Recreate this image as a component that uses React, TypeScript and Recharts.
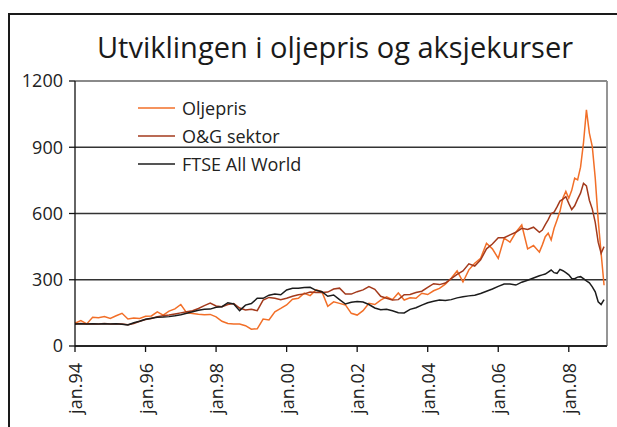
import React from 'react';
import { LineChart, Line, XAxis, YAxis, CartesianGrid, ReferenceLine } from 'recharts';

const TITLE = 'Utviklingen i oljepris og aksjekurser';

const SERIES_NAMES = ['Oljepris', 'O&G sektor', 'FTSE All World'];
const SERIES_KEYS = ['oil', 'og', 'ftse'];
const SERIES_COLORS = ['#f26f28', '#a33a1c', '#1c1c1c'];

const Y_TICKS = [0, 300, 600, 900, 1200];
const X_TICKS = [0, 24, 48, 72, 96, 120, 144, 168];
const X_TICK_LABELS = ['jan.94', 'jan.96', 'jan.98', 'jan.00', 'jan.02', 'jan.04', 'jan.06', 'jan.08'];

// month index since jan.94: every second month to 158, then monthly to 180
const MONTHS_A = [
  0, 2, 4, 6, 8, 10, 12, 14, 16, 18,
  20, 22, 24, 26, 28, 30, 32, 34, 36, 38,
  40, 42, 44, 46, 48, 50, 52, 54, 56, 58,
  60, 62, 64, 66, 68, 70, 72, 74, 76, 78,
  80, 82, 84, 86, 88, 90, 92, 94, 96, 98,
  100, 102, 104, 106, 108, 110, 112, 114, 116, 118,
  120, 122, 124, 126, 128, 130, 132, 134, 136, 138,
  140, 142, 144, 146, 148, 150, 152, 154, 156, 158,
];
const MONTHS_B = [159, 160, 161, 162, 163, 164, 165, 166, 167, 168, 169, 170, 171, 172, 173, 174, 175, 176, 177, 178, 179, 180];

const OIL = [
  103, 115, 100, 130, 128, 133, 125, 137, 148, 122,
  127, 125, 135, 136, 155, 140, 158, 168, 188, 150,
  147, 144, 142, 143, 132, 112, 102, 100, 100, 92,
  76, 78, 122, 118, 155, 170, 186, 212, 216, 239,
  228, 254, 246, 180, 200, 193, 186, 148, 140, 160,
  193, 188, 208, 223, 210, 240, 208, 218, 216, 239,
  233, 250, 261, 280, 307, 340, 290, 345, 375, 397,
  465, 440, 397, 488, 470, 515, 548, 440, 455, 425,
  458, 495, 511, 480, 533, 571, 610, 670, 700, 669, 705, 760, 752, 810, 920, 1069, 964, 903, 760, 570, 420, 275,
];

const OG = [
  100, 102, 100, 101, 100, 102, 100, 101, 100, 96,
  102, 112, 120, 125, 133, 137, 140, 145, 150, 155,
  160, 170, 183, 194, 181, 178, 188, 192, 172, 163,
  166, 160, 208, 220, 216, 210, 216, 225, 232, 236,
  244, 242, 242, 244, 258, 262, 235, 235, 246, 254,
  269, 257, 225, 216, 208, 210, 232, 233, 242, 248,
  265, 282, 278, 285, 305, 324, 340, 372, 362, 390,
  440, 462, 490, 490, 503, 515, 533, 528, 538, 515,
  525, 550, 572, 600, 606, 630, 656, 665, 676, 646, 618, 635, 665, 692, 737, 725, 660, 620, 560, 470, 420, 450,
];

const FTSE = [
  100, 101, 100, 101, 100, 101, 100, 101, 99, 95,
  105, 112, 121, 126, 130, 131, 133, 137, 142, 148,
  155, 162, 166, 167, 175, 178, 196, 190, 160, 185,
  192, 216, 216, 230, 235, 232, 254, 261, 261, 265,
  266, 252, 246, 225, 231, 210, 190, 198, 201, 199,
  188, 172, 164, 166, 160, 151, 150, 166, 173, 185,
  196, 203, 208, 206, 210, 218, 223, 227, 230, 238,
  248, 258, 270, 281, 281, 276, 289, 298, 308, 318,
  322, 326, 335, 344, 332, 329, 347, 341, 332, 322, 306, 305, 312, 314, 305, 295, 286, 268, 245, 200, 188, 210,
];

const MONTHS = [...MONTHS_A, ...MONTHS_B];
const DATA = MONTHS.map((m, i) => ({ m, oil: OIL[i], og: OG[i], ftse: FTSE[i] }));

const FONT = '"Open Sans", "Noto Sans", sans-serif';

const XTick = (props: any) => {
  const { x, y, payload } = props;
  const idx = X_TICKS.indexOf(payload.value);
  return (
    <text
      transform={`translate(${x},${y + 9}) rotate(-90)`}
      textAnchor="end"
      dominantBaseline="central"
      fontSize={18}
      fill="#222"
      fontFamily={FONT}
    >
      {X_TICK_LABELS[idx]}
    </text>
  );
};

export default function App() {
  return (
    <div
      style={{
        position: 'absolute',
        left: 0,
        top: 0,
        width: 617,
        height: 427,
        overflow: 'hidden',
        background: '#fff',
        fontFamily: FONT,
      }}
    >
      <div
        style={{
          position: 'absolute',
          left: 8,
          top: 13,
          width: 700,
          height: 600,
          border: '2.5px solid #1a1a1a',
        }}
      />
      <div style={{ position: 'absolute', left: 0, top: 0 }}>
        <LineChart width={617} height={427} data={DATA} margin={{ top: 81, right: 10, bottom: 0, left: 0 }}>
          <CartesianGrid vertical={false} stroke="#333" strokeWidth={1.3} />
          <XAxis
            dataKey="m"
            type="number"
            domain={[0, 181]}
            ticks={X_TICKS}
            tick={<XTick />}
            tickSize={6}
            height={81}
            interval={0}
            axisLine={{ stroke: '#111', strokeWidth: 1.3 }}
            tickLine={{ stroke: '#111', strokeWidth: 1.3 }}
          />
          <YAxis
            domain={[0, 1200]}
            ticks={Y_TICKS}
            width={75}
            tickSize={6}
            tickMargin={6}
            interval={0}
            tick={{ fontSize: 18, fill: '#222', fontFamily: FONT }}
            axisLine={{ stroke: '#111', strokeWidth: 1.3 }}
            tickLine={{ stroke: '#111', strokeWidth: 1.3 }}
          />
          <ReferenceLine y={1200} stroke="#8a8a8a" strokeWidth={1.8} />
          <ReferenceLine x={181} stroke="#8a8a8a" strokeWidth={1.8} />
          {SERIES_KEYS.map((k, i) => (
            <Line
              key={k}
              dataKey={k}
              name={SERIES_NAMES[i]}
              type="linear"
              stroke={SERIES_COLORS[i]}
              strokeWidth={1.5}
              dot={false}
              activeDot={false}
              isAnimationActive={false}
            />
          ))}
        </LineChart>
      </div>
      <svg width={617} height={427} style={{ position: 'absolute', left: 0, top: 0, pointerEvents: 'none' }}>
        <text x={335} y={58} textAnchor="middle" fontSize={29} fill="#1a1a1a" fontFamily={FONT}>
          {TITLE}
        </text>
        {SERIES_NAMES.map((name, i) => (
          <g key={name}>
            <line x1={138} x2={175} y1={108 + i * 28} y2={108 + i * 28} stroke={SERIES_COLORS[i]} strokeWidth={1.5} />
            <rect x={180} y={96 + i * 28} width={0} height={0} fill="none" />
            <text x={182} y={108 + i * 28} dominantBaseline="central" fontSize={18} fill="#222" fontFamily={FONT}>
              {name}
            </text>
          </g>
        ))}
      </svg>
    </div>
  );
}
